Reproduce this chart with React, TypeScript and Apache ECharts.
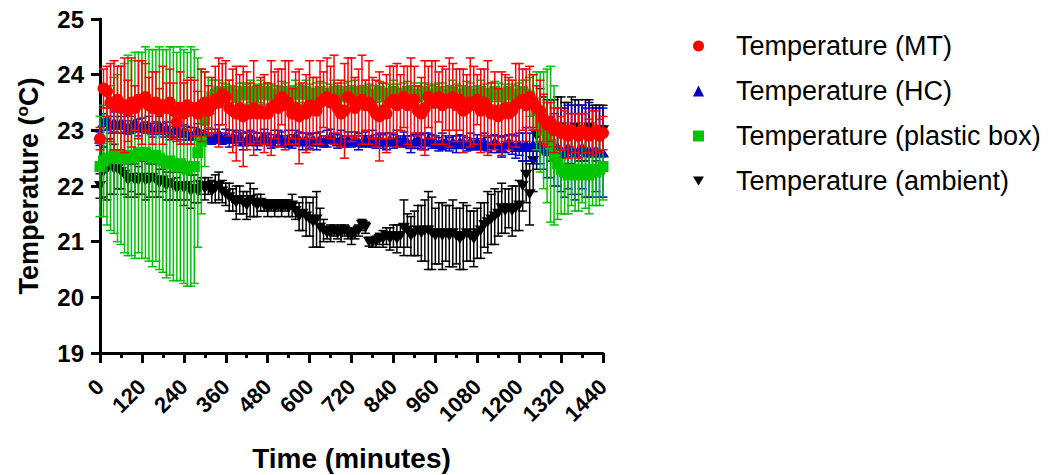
import React, { useEffect, useRef } from 'react';
import * as echarts from 'echarts';

const FONT = '"Liberation Sans", Arial, Helvetica, sans-serif';

// Readings every 10 minutes over 24 h (0 … 1440 min)
const SAMPLE_STEP_MIN = 10;
const SAMPLE_COUNT = 145;
const timeMinutes = Array.from({ length: SAMPLE_COUNT }, (_, i) => i * SAMPLE_STEP_MIN);

const xTicks = [0, 120, 240, 360, 480, 600, 720, 840, 960, 1080, 1200, 1320, 1440];
const yTicks = [19, 20, 21, 22, 23, 24, 25];

const seriesNames = [
  'Temperature (MT)',
  'Temperature (HC)',
  'Temperature (plastic box)',
  'Temperature (ambient)',
];

// Temperature (MT): mean and SD, °C
const mtMean = [
  22.85, 23.75, 23.7, 23.5, 23.45, 23.55, 23.4, 23.45, 23.35, 23.5, 23.4, 23.55,
  23.5, 23.6, 23.45, 23.4, 23.5, 23.35, 23.45, 23.4, 23.5, 23.35, 23.15, 23.4,
  23.3, 23.45, 23.35, 23.4, 23.3, 23.45, 23.5, 23.35, 23.45, 23.55, 23.5, 23.65,
  23.6, 23.4, 23.35, 23.3, 23.4, 23.25, 23.35, 23.3, 23.4, 23.3, 23.35, 23.3,
  23.3, 23.4, 23.45, 23.4, 23.6, 23.45, 23.5, 23.3, 23.4, 23.25, 23.35, 23.3,
  23.45, 23.4, 23.35, 23.5, 23.55, 23.6, 23.5, 23.55, 23.4, 23.3, 23.35, 23.6,
  23.55, 23.4, 23.5, 23.55, 23.45, 23.5, 23.4, 23.3, 23.25, 23.35, 23.3, 23.5,
  23.55, 23.45, 23.5, 23.6, 23.45, 23.5, 23.55, 23.35, 23.3, 23.4, 23.6, 23.55,
  23.5, 23.6, 23.45, 23.55, 23.5, 23.6, 23.45, 23.55, 23.35, 23.4, 23.5, 23.45,
  23.55, 23.35, 23.5, 23.4, 23.3, 23.35, 23.25, 23.3, 23.4, 23.3, 23.35, 23.45,
  23.5, 23.55, 23.45, 23.6, 23.5, 23.4, 23.35, 23.2, 23.1, 23.15, 23.0, 23.05,
  22.95, 23.0, 22.9, 23.0, 22.95, 22.9, 23.0, 22.95, 22.9, 22.95, 23.0, 22.9,
  22.95,
];
const mtSD = [
  0.2, 0.35, 0.45, 0.7, 0.8, 0.6, 0.75, 0.85, 0.55, 0.8, 0.4, 0.7,
  0.75, 0.6, 0.5, 0.65, 0.55, 0.4, 0.7, 0.45, 0.6, 0.5, 0.35, 0.65,
  0.55, 0.45, 0.6, 0.5, 0.4, 0.65, 0.55, 0.45, 0.5, 0.6, 0.8, 0.55,
  0.65, 0.5, 0.75, 0.85, 0.6, 0.9, 0.7, 0.55, 0.85, 0.5, 0.6, 0.7,
  0.55, 0.85, 0.6, 0.7, 0.5, 0.8, 0.75, 0.45, 0.65, 0.85, 0.5, 0.7,
  0.8, 0.55, 0.6, 0.75, 0.5, 0.7, 0.65, 0.8, 0.45, 0.6, 0.85, 0.7,
  0.75, 0.55, 0.6, 0.8, 0.45, 0.75, 0.55, 0.6, 0.8, 0.5, 0.7, 0.65,
  0.6, 0.75, 0.5, 0.55, 0.7, 0.8, 0.6, 0.45, 0.65, 0.85, 0.55, 0.7,
  0.75, 0.45, 0.7, 0.55, 0.8, 0.6, 0.65, 0.55, 0.75, 0.6, 0.8, 0.7,
  0.45, 0.75, 0.6, 0.85, 0.55, 0.7, 0.5, 0.75, 0.6, 0.65, 0.55, 0.75,
  0.7, 0.55, 0.65, 0.55, 0.5, 0.4, 0.55, 0.45, 0.4, 0.35, 0.4, 0.35,
  0.3, 0.35, 0.4, 0.3, 0.35, 0.4, 0.3, 0.35, 0.3, 0.4, 0.35, 0.3,
  0.3,
];

// Temperature (HC)
const hcMean = [
  22.85, 23.15, 23.2, 23.1, 23.15, 23.1, 23.15, 23.1, 23.05, 23.1, 23.15, 23.05,
  23.1, 23.05, 23.1, 23.0, 23.05, 23.1, 23.0, 23.05, 22.95, 23.0, 23.05, 22.95,
  23.0, 22.95, 22.9, 22.95, 23.0, 22.9, 22.95, 22.9, 22.85, 22.9, 22.95, 22.85,
  22.9, 22.85, 22.9, 22.85, 22.9, 22.8, 22.85, 22.9, 22.85, 22.8, 22.85, 22.9,
  22.85, 22.8, 22.85, 22.9, 22.85, 22.8, 22.85, 22.8, 22.9, 22.85, 22.8, 22.85,
  22.8, 22.85, 22.8, 22.85, 22.8, 22.85, 22.9, 22.85, 22.8, 22.85, 22.8, 22.85,
  22.8, 22.85, 22.8, 22.8, 22.85, 22.8, 22.85, 22.8, 22.85, 22.8, 22.8, 22.85,
  22.8, 22.85, 22.8, 22.85, 22.8, 22.75, 22.8, 22.85, 22.8, 22.8, 22.85, 22.8,
  22.8, 22.75, 22.8, 22.8, 22.75, 22.8, 22.75, 22.8, 22.8, 22.75, 22.8, 22.75,
  22.8, 22.75, 22.8, 22.75, 22.75, 22.8, 22.75, 22.7, 22.75, 22.8, 22.75, 22.7,
  22.75, 22.7, 22.75, 22.7, 22.75, 22.7, 22.75, 22.7, 22.65, 22.7, 22.65, 22.7,
  22.65, 22.6, 22.7, 22.65, 22.6, 22.65, 22.7, 22.6, 22.65, 22.6, 22.65, 22.6,
  22.6,
];
const hcSD = [
  0.12, 0.15, 0.2, 0.15, 0.18, 0.15, 0.2, 0.15, 0.12, 0.15, 0.18, 0.15,
  0.12, 0.1, 0.15, 0.12, 0.1, 0.15, 0.12, 0.1, 0.12, 0.15, 0.1, 0.12,
  0.1, 0.12, 0.15, 0.1, 0.12, 0.1, 0.15, 0.12, 0.1, 0.12, 0.15, 0.1,
  0.12, 0.15, 0.1, 0.12, 0.1, 0.15, 0.12, 0.1, 0.12, 0.15, 0.1, 0.12,
  0.1, 0.12, 0.15, 0.1, 0.12, 0.1, 0.15, 0.12, 0.1, 0.12, 0.15, 0.1,
  0.12, 0.1, 0.15, 0.12, 0.1, 0.15, 0.12, 0.1, 0.12, 0.15, 0.1, 0.12,
  0.1, 0.12, 0.15, 0.1, 0.12, 0.1, 0.15, 0.12, 0.1, 0.12, 0.15, 0.1,
  0.12, 0.15, 0.1, 0.12, 0.1, 0.15, 0.12, 0.1, 0.12, 0.15, 0.1, 0.12,
  0.1, 0.12, 0.15, 0.1, 0.12, 0.1, 0.15, 0.12, 0.1, 0.12, 0.15, 0.1,
  0.12, 0.1, 0.15, 0.12, 0.15, 0.12, 0.15, 0.18, 0.15, 0.12, 0.18, 0.2,
  0.2, 0.25, 0.3, 0.25, 0.3, 0.3, 0.35, 0.4, 0.5, 0.55, 0.65, 0.7,
  0.75, 0.8, 0.75, 0.8, 0.85, 0.8, 0.75, 0.8, 0.85, 0.8, 0.75, 0.8,
  0.8,
];

// Temperature (plastic box)
const boxMean = [
  22.35, 22.45, 22.5, 22.5, 22.55, 22.5, 22.55, 22.5, 22.55, 22.5, 22.55, 22.6,
  22.55, 22.6, 22.55, 22.5, 22.55, 22.5, 22.45, 22.4, 22.45, 22.4, 22.35, 22.4,
  22.35, 22.3, 22.35, 22.35, 22.6, 22.8, 23.2, 23.5, 23.6, 23.65, 23.7, 23.65,
  23.65, 23.7, 23.65, 23.6, 23.65, 23.7, 23.65, 23.7, 23.6, 23.65, 23.7, 23.65,
  23.7, 23.65, 23.6, 23.65, 23.7, 23.65, 23.6, 23.65, 23.7, 23.65, 23.65, 23.7,
  23.65, 23.6, 23.65, 23.7, 23.65, 23.6, 23.65, 23.7, 23.65, 23.6, 23.65, 23.7,
  23.65, 23.7, 23.6, 23.65, 23.7, 23.65, 23.6, 23.65, 23.7, 23.65, 23.6, 23.65,
  23.7, 23.65, 23.6, 23.65, 23.7, 23.65, 23.65, 23.6, 23.65, 23.7, 23.65, 23.6,
  23.65, 23.7, 23.65, 23.6, 23.65, 23.7, 23.65, 23.6, 23.65, 23.7, 23.65, 23.6,
  23.65, 23.7, 23.65, 23.6, 23.65, 23.7, 23.65, 23.6, 23.65, 23.7, 23.65, 23.6,
  23.65, 23.7, 23.65, 23.6, 23.5, 23.35, 23.15, 23.0, 22.9, 22.75, 22.55, 22.4,
  22.3, 22.25, 22.2, 22.3, 22.25, 22.2, 22.3, 22.25, 22.2, 22.3, 22.25, 22.3,
  22.35,
];
const boxSD = [
  0.9, 1.0, 1.2, 1.3, 1.4, 1.5, 1.6, 1.7, 1.8, 1.75, 1.85, 1.8,
  1.85, 1.9, 1.9, 1.95, 1.9, 2.0, 2.0, 2.05, 2.05, 2.1, 2.05, 2.1,
  2.1, 2.1, 2.15, 2.1, 1.7, 1.3, 0.85, 0.45, 0.3, 0.25, 0.2, 0.2,
  0.18, 0.2, 0.15, 0.18, 0.2, 0.15, 0.18, 0.2, 0.15, 0.18, 0.2, 0.18,
  0.15, 0.18, 0.2, 0.15, 0.18, 0.2, 0.18, 0.15, 0.2, 0.18, 0.15, 0.2,
  0.18, 0.15, 0.2, 0.18, 0.2, 0.15, 0.18, 0.2, 0.15, 0.18, 0.2, 0.18,
  0.15, 0.2, 0.18, 0.15, 0.2, 0.18, 0.2, 0.15, 0.18, 0.2, 0.15, 0.18,
  0.2, 0.18, 0.15, 0.2, 0.18, 0.15, 0.2, 0.18, 0.2, 0.15, 0.18, 0.2,
  0.18, 0.15, 0.2, 0.18, 0.15, 0.2, 0.18, 0.2, 0.15, 0.18, 0.2, 0.18,
  0.15, 0.2, 0.18, 0.15, 0.2, 0.18, 0.2, 0.15, 0.18, 0.2, 0.18, 0.2,
  0.2, 0.2, 0.25, 0.35, 0.5, 0.7, 0.9, 1.05, 1.2, 1.4, 1.25, 1.0,
  0.8, 0.75, 0.7, 0.65, 0.7, 0.65, 0.6, 0.65, 0.7, 0.65, 0.6, 0.65,
  0.6,
];

// Temperature (ambient)
const ambientMean = [
  22.0, 22.25, 22.3, 22.35, 22.3, 22.3, 22.25, 22.2, 22.1, 22.15, 22.1, 22.1,
  22.15, 22.1, 22.1, 22.15, 22.1, 22.05, 22.1, 22.0, 22.05, 22.0, 21.95, 22.0,
  21.95, 22.0, 21.9, 21.95, 21.9, 22.0, 21.95, 22.0, 21.9, 21.95, 22.0, 21.9,
  21.85, 21.8, 21.75, 21.7, 21.75, 21.7, 21.65, 21.75, 21.7, 21.65, 21.7, 21.65,
  21.6, 21.65, 21.6, 21.65, 21.6, 21.65, 21.6, 21.65, 21.55, 21.45, 21.5, 21.45,
  21.4, 21.35, 21.4, 21.25, 21.2, 21.15, 21.15, 21.2, 21.15, 21.15, 21.2, 21.15,
  21.1, 21.15, 21.2, 21.3, 21.25, 21.0, 20.98, 21.0, 21.05, 21.05, 21.1, 21.05,
  21.1, 21.05, 21.1, 21.25, 21.2, 21.1, 21.15, 21.2, 21.15, 21.2, 21.2, 21.15,
  21.1, 21.15, 21.1, 21.15, 21.1, 21.15, 21.1, 21.05, 21.1, 21.15, 21.1, 21.05,
  21.15, 21.2, 21.3, 21.35, 21.4, 21.45, 21.5, 21.6, 21.55, 21.6, 21.55, 21.6,
  21.65, 22.0, 22.2, 21.85, 22.45, 22.9, 23.2, 23.1, 23.05, 23.0, 23.05, 23.0,
  23.05, 23.0, 22.95, 23.0, 23.05, 23.0, 22.95, 23.0, 23.05, 23.0, 22.95, 23.0,
  23.0,
];
const ambientSD = [
  0.22, 0.45, 0.55, 0.5, 0.45, 0.35, 0.3, 0.35, 0.3, 0.25, 0.3, 0.25,
  0.3, 0.35, 0.3, 0.25, 0.3, 0.25, 0.2, 0.25, 0.3, 0.25, 0.2, 0.25,
  0.3, 0.25, 0.3, 0.25, 0.2, 0.15, 0.2, 0.15, 0.2, 0.25, 0.25, 0.2,
  0.2, 0.25, 0.2, 0.3, 0.25, 0.2, 0.25, 0.3, 0.25, 0.2, 0.15, 0.1,
  0.15, 0.1, 0.15, 0.1, 0.15, 0.1, 0.15, 0.2, 0.15, 0.25, 0.3, 0.35,
  0.3, 0.45, 0.5, 0.35, 0.2, 0.1, 0.15, 0.1, 0.1, 0.15, 0.1, 0.1,
  0.15, 0.1, 0.1, 0.1, 0.1, 0.08, 0.08, 0.1, 0.1, 0.15, 0.15, 0.2,
  0.2, 0.25, 0.2, 0.5, 0.3, 0.35, 0.4, 0.45, 0.5, 0.55, 0.7, 0.65,
  0.5, 0.55, 0.6, 0.5, 0.55, 0.6, 0.5, 0.55, 0.6, 0.5, 0.45, 0.5,
  0.45, 0.5, 0.4, 0.55, 0.45, 0.5, 0.4, 0.45, 0.4, 0.35, 0.45, 0.4,
  0.45, 0.45, 0.5, 0.55, 0.55, 0.6, 0.55, 0.5, 0.5, 0.55, 0.5, 0.6,
  0.55, 0.5, 0.55, 0.6, 0.5, 0.55, 0.5, 0.55, 0.5, 0.45, 0.5, 0.45,
  0.45,
];

const DOWN_TRIANGLE = 'path://M0,0L12,0L6,10Z';

// Drawn bottom to top: ambient, HC, plastic box, MT
const groups = [
  { name: seriesNames[3], mean: ambientMean, sd: ambientSD, color: '#000000', symbol: DOWN_TRIANGLE, size: [12, 10] },
  { name: seriesNames[1], mean: hcMean, sd: hcSD, color: '#0000c8', symbol: 'triangle', size: [12, 10] },
  { name: seriesNames[2], mean: boxMean, sd: boxSD, color: '#00c400', symbol: 'rect', size: [11, 11] },
  { name: seriesNames[0], mean: mtMean, sd: mtSD, color: '#ff0000', symbol: 'circle', size: 12 },
];

const CAP_HALF = 4.5;

function buildSeries() {
  const out: any[] = [];
  groups.forEach((g, k) => {
    const z = 2 + k * 2;
    out.push({
      type: 'custom',
      name: g.name + ' SD',
      z,
      silent: true,
      clip: false,
      data: timeMinutes.map((t, i) => [t, g.mean[i] - g.sd[i], g.mean[i] + g.sd[i]]),
      encode: { x: 0, y: [1, 2] },
      renderItem: (_params: any, api: any) => {
        const t = api.value(0);
        const lo = api.coord([t, api.value(1)]);
        const hi = api.coord([t, api.value(2)]);
        const style = { stroke: g.color, lineWidth: 1.5, fill: 'none' };
        return {
          type: 'group',
          children: [
            { type: 'line', shape: { x1: lo[0], y1: lo[1], x2: hi[0], y2: hi[1] }, style },
            { type: 'line', shape: { x1: hi[0] - CAP_HALF, y1: hi[1], x2: hi[0] + CAP_HALF, y2: hi[1] }, style },
            { type: 'line', shape: { x1: lo[0] - CAP_HALF, y1: lo[1], x2: lo[0] + CAP_HALF, y2: lo[1] }, style },
          ],
        };
      },
    });
    out.push({
      type: 'scatter',
      name: g.name,
      z: z + 1,
      symbol: g.symbol,
      symbolSize: g.size,
      itemStyle: { color: g.color, opacity: 1 },
      data: timeMinutes.map((t, i) => [t, g.mean[i]]),
    });
  });
  return out;
}

export default function App() {
  const ref = useRef<HTMLDivElement>(null);

  useEffect(() => {
    if (!ref.current) return;
    const chart = echarts.init(ref.current, null, { renderer: 'svg' });
    chart.setOption({
      animation: false,
      backgroundColor: '#ffffff',
      textStyle: { fontFamily: FONT },
      grid: { left: 100, top: 19, width: 503, height: 334, containLabel: false, outerBoundsMode: 'none' },
      legend: {
        orient: 'vertical',
        left: 688,
        top: 26,
        itemWidth: 11,
        itemHeight: 11,
        itemGap: 15,
        selectedMode: false,
        data: seriesNames,
        textStyle: { fontFamily: FONT, fontSize: 27, color: '#000', lineHeight: 30, padding: [0, 0, 0, 27] },
      },
      xAxis: {
        type: 'value',
        min: xTicks[0],
        max: xTicks[xTicks.length - 1],
        interval: xTicks[1] - xTicks[0],
        name: 'Time (minutes)',
        nameLocation: 'middle',
        nameGap: 91,
        nameTextStyle: { fontFamily: FONT, fontSize: 28, fontWeight: 'bold', color: '#000' },
        axisLine: { show: true, onZero: false, lineStyle: { color: '#000', width: 3 } },
        axisTick: { show: true, length: 10, lineStyle: { color: '#000', width: 3 } },
        minorTick: { show: true, splitNumber: 2, length: 5, lineStyle: { color: '#000', width: 3 } },
        splitLine: { show: false },
        minorSplitLine: { show: false },
        axisLabel: {
          rotate: 45,
          margin: 30,
          fontFamily: FONT,
          fontSize: 22,
          fontWeight: 'bold',
          color: '#000',
          formatter: (v: number) => String(v),
        },
      },
      yAxis: {
        type: 'value',
        min: yTicks[0],
        max: yTicks[yTicks.length - 1],
        interval: 1,
        name: '{a|Temperature (}{s|o}{a|C)}',
        nameLocation: 'middle',
        nameGap: 56,
        nameTextStyle: {
          rich: {
            a: { fontFamily: FONT, fontSize: 27, fontWeight: 'bold', color: '#000', lineHeight: 30 },
            s: { fontFamily: FONT, fontSize: 17, fontWeight: 'bold', color: '#000', verticalAlign: 'top', lineHeight: 30, padding: [0, 0, 10, 0] },
          },
        },
        axisLine: { show: true, onZero: false, lineStyle: { color: '#000', width: 3 } },
        axisTick: { show: true, length: 9, lineStyle: { color: '#000', width: 3 } },
        splitLine: { show: false },
        axisLabel: { margin: 16, fontFamily: FONT, fontSize: 24, fontWeight: 'bold', color: '#000' },
      },
      series: buildSeries(),
    });
    return () => chart.dispose();
  }, []);

  return (
    <div
      ref={ref}
      style={{ position: 'fixed', left: 0, top: 0, width: 1049, height: 475, background: '#fff' }}
    />
  );
}
